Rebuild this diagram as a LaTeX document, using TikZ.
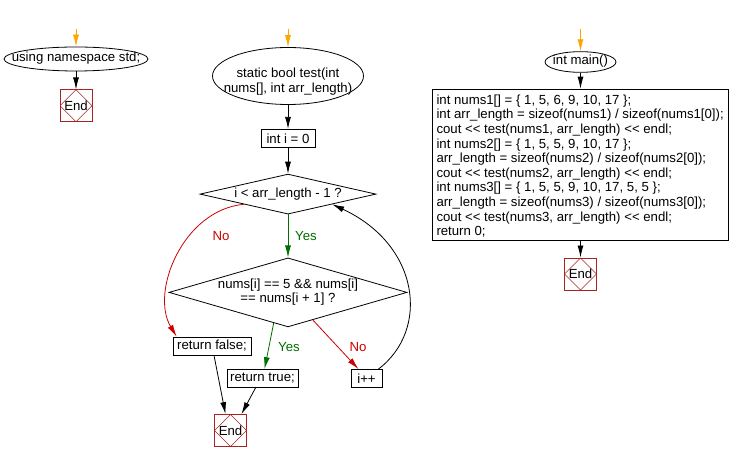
\documentclass[tikz,border=0pt]{standalone}
\usepackage{fontspec}
\setmainfont{Liberation Sans}
\usetikzlibrary{positioning, arrows.meta, shapes.geometric}

\definecolor{startorange}{RGB}{255,165,0}
\definecolor{endred}{RGB}{170,35,35}
\definecolor{nored}{RGB}{204,0,0}
\definecolor{yesgreen}{RGB}{0,110,0}

\newcommand{\ztext}[1]{\makebox[0pt]{\begin{tabular}{@{}c@{}}#1\end{tabular}}}
\newcommand{\codelines}[1]{\makebox[288pt][l]{\begin{tabular}{@{}l@{}}#1\end{tabular}}}

\begin{document}
\begin{tikzpicture}[
        x=1pt, y=-1pt,
        >={Latex[length=12pt,width=6pt]},
        font=\fontsize{13.2}{14.6}\selectfont,
        term/.style={draw, ellipse, inner sep=0pt, line width=0.8pt},
        proc/.style={draw, rectangle, inner xsep=0pt, inner ysep=0pt, minimum height=18pt, line width=0.8pt},
        decide/.style={draw, diamond, inner sep=0pt, line width=0.8pt},
        endbox/.style={draw=endred, rectangle, minimum size=32pt, inner sep=0pt, line width=0.8pt,
            path picture={\draw[endred, line width=0.5pt] (path picture bounding box.north) -- (path picture bounding box.east) -- (path picture bounding box.south) -- (path picture bounding box.west) -- cycle;}},
        arrow/.style={->, line width=0.8pt},
        startarrow/.style={->, startorange, line width=0.8pt},
        yesarrow/.style={->, yesgreen, line width=0.8pt},
        noarrow/.style={->, nored, line width=0.8pt}
    ]
    \useasboundingbox (0,0) rectangle (732,462);

    % Nodes
    \node[term, minimum width=144pt, minimum height=24pt] (usens) at (76,59) {\ztext{using namespace std;}};
    \node[endbox, below=18pt of usens] (endA) {End};

    \node[term, minimum width=151pt, minimum height=57pt] (testfn) at (288,76) {\raisebox{-9pt}[0pt][0pt]{\ztext{static bool test(int\\nums[], int arr\_length)}}};
    \node[proc, minimum width=54pt, below=24pt of testfn] (initi) {int i = 0};
    \node[decide, minimum width=176pt, minimum height=40pt, below=26pt of initi] (cond) {\ztext{i < arr\_length - 1 ?}};
    \node[decide, minimum width=238pt, minimum height=69pt, below=43pt of cond] (check) {\ztext{nums[i] == 5 \&\& nums[i]\\== nums[i + 1] ?}};
    \node[proc, minimum width=78pt] (retfalse) at (212,346) {return false;};
    \node[proc, minimum width=71pt] (rettrue) at (262.5,378.5) {return true;};
    \node[proc, minimum width=31pt] (incr) at (366.5,378.5) {i++};
    \node[endbox] (endB) at (230.5,430.5) {End};

    \node[term, minimum width=71pt, minimum height=19pt] (mainfn) at (580.5,62) {\ztext{int main()}};
    \node[proc, inner xsep=4pt, minimum height=151pt, below=16pt of mainfn] (body) {\codelines{\rule{0pt}{15pt}int nums1[] = \{ 1, 5, 6, 9, 10, 17 \};\\
        int arr\_length = sizeof(nums1) / sizeof(nums1[0]);\\
        cout <{}< test(nums1, arr\_length) <{}< endl;\\
        int nums2[] = \{ 1, 5, 5, 9, 10, 17 \};\\
        arr\_length = sizeof(nums2) / sizeof(nums2[0]);\\
        cout <{}< test(nums2, arr\_length) <{}< endl;\\
        int nums3[] = \{ 1, 5, 5, 9, 10, 17, 5, 5 \};\\
        arr\_length = sizeof(nums3) / sizeof(nums3[0]);\\
        cout <{}< test(nums3, arr\_length) <{}< endl;\\
        return 0;}};
    \node[endbox, below=17pt of body] (endC) {End};

    % Labels
    \node[text=yesgreen] (yesA) at (306,236) {Yes};
    \node[text=nored] (noA) at (221,236) {No};
    \node[text=yesgreen] (yesB) at (289,347) {Yes};
    \node[text=nored] (noB) at (358,347) {No};

    % Arrows
    \coordinate (startA) at (76,29);
    \coordinate (startB) at (288,29);
    \coordinate (startC) at (580.5,29);
    \draw[startarrow] (startA) -- (usens);
    \draw[startarrow] (startB) -- (testfn);
    \draw[startarrow] (startC) -- (mainfn);

    \draw[arrow] (usens) -- (endA);
    \draw[arrow] (testfn) -- (initi);
    \draw[arrow] (initi) -- (cond);
    \draw[yesarrow] (cond.south) -- (check.north);
    \draw[noarrow] (cond.193) .. controls (183,210) and (150,292) .. ([xshift=4pt]retfalse.north west);
    \draw[yesarrow] (check.245) -- ([xshift=2pt]rettrue.north);
    \draw[noarrow] (check.312) -- ([xshift=-8pt]incr.north);
    \draw[arrow] ([xshift=-4pt]incr.north east) .. controls (430,330) and (420,245) .. (cond.-13);
    \draw[arrow] ([xshift=2pt]retfalse.south) -- ([xshift=-5pt]endB.north);
    \draw[arrow] ([xshift=-7pt]rettrue.south) -- ([xshift=11pt]endB.north);
    \draw[arrow] (mainfn) -- (body);
    \draw[arrow] (body) -- (endC);
\end{tikzpicture}
\end{document}
